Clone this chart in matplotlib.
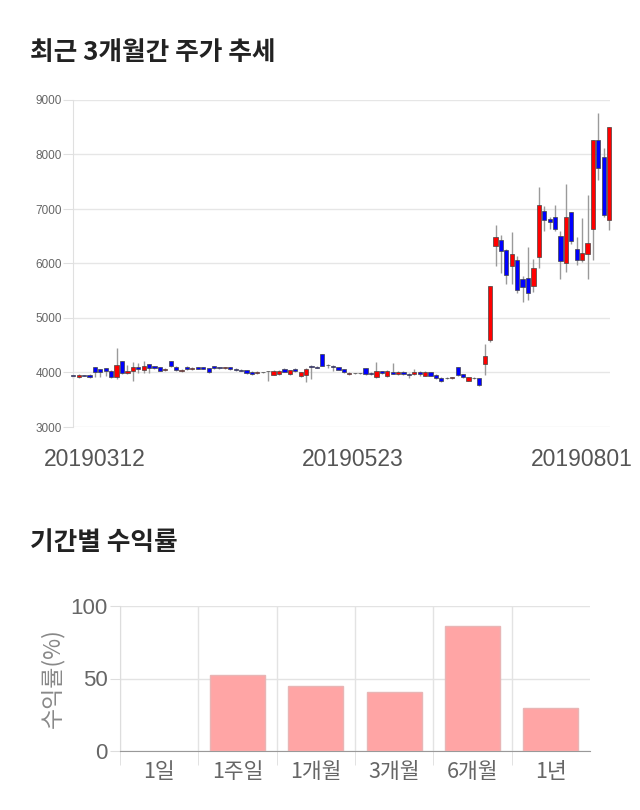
import matplotlib
matplotlib.use("Agg")
import matplotlib.pyplot as plt
import matplotlib.transforms as mtransforms
import numpy as np

plt.rcParams['font.family'] = ['Noto Sans CJK KR', 'DejaVu Sans']

# ---------------- data ----------------
title_top = "최근 3개월간 주가 추세"
title_bottom = "기간별 수익률"

date_ticks_idx = [0, 51, 99]
date_tick_labels = ["20190312", "20190523", "20190801"]

opens = [3945, 3924, 3945, 3955, 4095, 4064, 4077, 4034, 3924, 4205,
         3985, 4022, 4095, 4052, 4156, 4113, 4095, 4046, 4205, 4107,
         4022, 4107, 4058, 4101, 4101, 4083, 4113, 4101, 4077, 4095,
         4070, 4052, 4046, 4010, 3985, 4006, 4024, 3961, 3967, 4064,
         3967, 4064, 3930, 3955, 4125, 4107, 4339, 4140, 4125, 4095,
         4064, 3973, 3987, 3987, 4077, 3991, 3912, 4022, 3930, 4003,
         3973, 4016, 3973, 3967, 4016, 3943, 4003, 3955, 3900, 3902,
         3894, 4095, 3973, 3851, 3890, 3900, 4160, 4600, 6320, 6440,
         6250, 5950, 6070, 5710, 5730, 5580, 6120, 6960, 6810, 6850,
         6500, 6010, 6950, 6260, 6070, 6170, 6640, 8270, 7950, 6800]
closes = [3942, 3955, 3940, 3912, 4016, 4003, 4022, 3924, 4144, 3985,
          4022, 4095, 4058, 4125, 4083, 4083, 4034, 4070, 4113, 4046,
          4046, 4058, 4083, 4070, 4070, 4010, 4077, 4077, 4101, 4064,
          4040, 4034, 3991, 3979, 4016, 4002, 4020, 4028, 4028, 4016,
          4046, 4022, 4004, 4064, 4095, 4089, 4125, 4136, 4095, 4052,
          4004, 3991, 3983, 3983, 3973, 3973, 4034, 3991, 4022, 3979,
          4016, 3967, 3955, 4003, 3967, 4016, 3943, 3894, 3851, 3898,
          3912, 3955, 3912, 3912, 3900, 3778, 4300, 5580, 6490, 6230,
          5780, 6180, 5510, 5570, 5450, 5910, 7070, 6790, 6760, 6640,
          6040, 6860, 6410, 6060, 6190, 6370, 8270, 7760, 6890, 8500]
highs = [3960, 3965, 3955, 3965, 4100, 4070, 4085, 4045, 4448, 4210,
         4140, 4190, 4170, 4210, 4165, 4125, 4105, 4085, 4215, 4115,
         4060, 4115, 4095, 4110, 4110, 4090, 4125, 4110, 4110, 4105,
         4080, 4060, 4055, 4020, 4030, 4015, 4030, 4040, 4040, 4075,
         4055, 4075, 4015, 4075, 4135, 4115, 4345, 4150, 4135, 4100,
         4070, 4000, 3995, 3995, 4085, 4000, 4186, 4035, 4040, 4170,
         4025, 4025, 3985, 4060, 4025, 4030, 4015, 3965, 3910, 3910,
         3925, 4100, 3980, 3925, 3910, 3905, 4520, 5580, 6700, 6530,
         6260, 6570, 6130, 5765, 6310, 6090, 7400, 7050, 6860, 7080,
         6590, 7450, 6950, 6480, 6840, 7250, 8270, 8760, 8120, 8500]
lows = [3895, 3900, 3930, 3900, 3912, 3912, 3930, 3900, 3880, 3970,
        3975, 3850, 3990, 3990, 3990, 4070, 4020, 4035, 4100, 4020,
        4010, 4040, 4050, 4060, 4060, 3990, 4060, 4060, 4070, 4050,
        4020, 4020, 3975, 3960, 3970, 3990, 3851, 3950, 3950, 4000,
        3950, 4010, 3920, 3820, 3882, 4080, 4115, 4090, 4020, 4040,
        3990, 3960, 3975, 3975, 3960, 3960, 3900, 3975, 3920, 3970,
        3960, 3955, 3900, 3955, 3940, 3935, 3930, 3880, 3830, 3880,
        3880, 3940, 3890, 3840, 3880, 3760, 3950, 4560, 5950, 5820,
        5630, 5620, 5450, 5290, 5330, 5470, 5910, 6590, 6640, 6590,
        5710, 5840, 6350, 5980, 6020, 5720, 6070, 7540, 6850, 6620]

ret_categories = ["1일", "1주일", "1개월", "3개월", "6개월", "1년"]
ret_values = [0, 52.5, 45.0, 40.5, 86.5, 29.8]

# ---------------- figure ----------------
fig = plt.figure(figsize=(6.4, 8.1), dpi=100)

fig.text(30/640, 1 - 52/810, title_top, fontsize=18.5, fontweight='bold',
         color='#222222', va='center', ha='left')
fig.text(30/640, 1 - 543/810, title_bottom, fontsize=18.5, fontweight='bold',
         color='#222222', va='center', ha='left')

# ---- candlestick chart ----
ax = fig.add_axes([73.3/640, 1 - 427/810, (610 - 73.3)/640, (427 - 100)/810])
o = np.array(opens, dtype=float)
c = np.array(closes, dtype=float)
h = np.array(highs, dtype=float)
l = np.array(lows, dtype=float)
x = np.arange(len(o))
up = c >= o
colors = np.where(up, '#ff0000', '#0000ff')
bottoms = np.minimum(o, c)
heights = np.abs(c - o)

ax.vlines(x, l, h, color='#9a9a9a', linewidth=1.0, zorder=2, clip_on=False)
ax.bar(x, heights, bottom=bottoms, width=0.78, color=colors,
       edgecolor='#444444', linewidth=0.5, zorder=3, clip_on=False)

ax.set_xlim(0, 99.15)
ax.set_ylim(3000, 9000)
ax.set_yticks([3000, 4000, 5000, 6000, 7000, 8000, 9000])
ax.grid(axis='y', color='#e6e6e6', linewidth=1.0, zorder=0)
ax.set_axisbelow(True)
for s in ['top', 'right', 'bottom']:
    ax.spines[s].set_visible(False)
ax.spines['left'].set_color('#e0e0e0')
ax.tick_params(axis='y', length=7, color='#e0e0e0', labelsize=8.5,
               labelcolor='#666666', pad=1)
for lab in ax.get_yticklabels():
    lab.set_fontfamily(['Liberation Sans', 'DejaVu Sans'])
ax.set_xticks(date_ticks_idx)
ax.set_xticklabels(date_tick_labels)
ax.tick_params(axis='x', length=0, labelsize=16.5, labelcolor='#555555', pad=15)
offsets_px = [21, 3, -27]
for lab, dx in zip(ax.get_xticklabels(), offsets_px):
    lab.set_fontfamily(['Liberation Sans', 'DejaVu Sans'])
    lab.set_transform(lab.get_transform() +
                      mtransforms.ScaledTranslation(dx/100, 0, fig.dpi_scale_trans))

# ---- returns bar chart ----
ax2 = fig.add_axes([120/640, 1 - 751/810, (590 - 120)/640, (751 - 606)/810])
xb = np.arange(len(ret_categories))
edge_cols = ['#e8b5b5' if v > 0 else 'none' for v in ret_values]
ax2.bar(xb, ret_values, width=0.7, color='#ffa5a5', edgecolor=edge_cols,
        linewidth=1.0, zorder=3)
ax2.set_xlim(-0.5, 5.5)
ax2.set_ylim(0, 100)
ax2.set_yticks([0, 50, 100])
ax2.set_xticks(xb)
ax2.set_xticklabels(ret_categories)
ax2.set_xticks(np.arange(-0.5, 5.0, 1.0), minor=True)
ax2.grid(axis='y', which='major', color='#e3e3e3', linewidth=1.0, zorder=0)
ax2.grid(axis='x', which='minor', color='#e3e3e3', linewidth=1.0, zorder=0)
ax2.set_axisbelow(True)
for s in ['top', 'right']:
    ax2.spines[s].set_visible(False)
ax2.spines['left'].set_color('#dddddd')
ax2.spines['bottom'].set_color('#999999')
ax2.tick_params(axis='x', which='major', length=0, labelsize=15.5,
                labelcolor='#666666', pad=7)
ax2.tick_params(axis='x', which='minor', length=10, color='#dddddd')
ax2.tick_params(axis='y', length=7, color='#dddddd', labelsize=16,
                labelcolor='#666666', pad=2)
for lab in ax2.get_yticklabels():
    lab.set_fontfamily(['Liberation Sans', 'DejaVu Sans'])
ax2.set_ylabel("수익률(%)", fontsize=16.5, color='#888888', labelpad=4)

fig.savefig("out.png", dpi=100)
